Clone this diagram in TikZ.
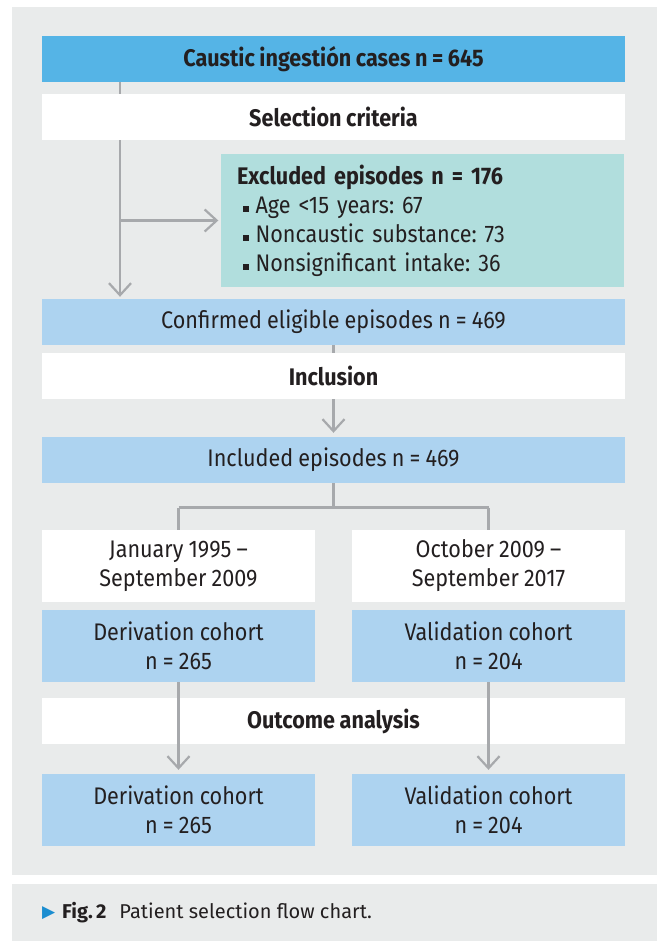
\documentclass[tikz,border=0pt]{standalone}
\usepackage{fontspec}
\setmainfont{Fira Sans}[FakeStretch=0.9, WordSpace=0.9]
\newfontfamily\capfont{Fira Sans}
\newfontfamily\djv{DejaVu Sans}
\usetikzlibrary{arrows.meta}
\definecolor{panelgray}{HTML}{E9EBEB}
\definecolor{topblue}{HTML}{55B4E6}
\definecolor{lightblue}{HTML}{ADD3F0}
\definecolor{exclteal}{HTML}{B1DEDD}
\definecolor{txt}{HTML}{231F20}
\definecolor{connc}{HTML}{A7A9AC}
\definecolor{capblue}{HTML}{1B8DD0}
\newcommand{\sqbul}{\hspace{5.5pt}\rule[1.5pt]{6pt}{6pt}\hspace{7pt}}
\frenchspacing
\begin{document}
\begin{tikzpicture}[x=1pt,y=-1pt,
  box/.style={inner sep=0pt, text=txt, align=center, font=\fontsize{24}{29}\selectfont},
  boldbox/.style={box, font=\fontsize{24}{29}\selectfont\bfseries},
  wide/.style={minimum width=583pt, minimum height=46pt},
  half/.style={box, minimum width=273pt, minimum height=72pt},
  conn/.style={draw=connc, line width=2.2pt},
  arr/.style={conn, -{Straight Barb[length=12pt,width=22pt]}}
]
\useasboundingbox (0,0) rectangle (657,941);
\fill[panelgray] (12,7) rectangle (657,875);
\fill[panelgray] (12,884) rectangle (657,941);

% top part
\coordinate (xl) at (120,0);
\node[boldbox, wide, fill=topblue] (top) at (333.5,59) {Caustic ingestión cases n = 645};
\node[box, wide, fill=lightblue] (conf) at (333.5,322) {Confirmed eligible episodes n = 469};
\node[box, fill=exclteal, minimum width=403pt, minimum height=133pt, text width=371pt, align=left] (excl) at (422.5,220.5)
  {\textbf{Excluded episodes n = 176}\\\sqbul Age <15 years: 67\\\sqbul Noncaustic substance: 73\\\sqbul Nonsignificant intake: 36};
\draw[arr, shorten >=2pt] (top.south -| xl) -- (conf.north -| xl);
\draw[arr, shorten >=2.5pt] (xl |- excl.west) -- (excl.west);
\node[boldbox, wide, fill=white] (sel) at (333.5,117) {Selection criteria};

% inclusion
\node[box, wide, fill=lightblue] (incd) at (333.5,460) {Included episodes n = 469};
\draw[arr, shorten >=4pt] (conf.south) -- (incd.north);
\node[boldbox, wide, fill=white] (incl) at (333.5,376) {Inclusion};

% split
\node[half, fill=white] (dl) at (178.5,566) {January 1995 –\\September 2009};
\node[half, fill=white] (dr) at (488.5,566) {October 2009 –\\September 2017};
\coordinate (split) at (333.5,507.5);
\draw[conn] (incd.south) -- (split);
\draw[conn] (split -| dl.north) -- (split -| dr.north);
\draw[conn] (split -| dl.north) -- (dl.north);
\draw[conn] (split -| dr.north) -- (dr.north);

\node[half, fill=lightblue] (cl) at (178.5,646) {Derivation cohort\\n = 265};
\node[half, fill=lightblue] (cr) at (488.5,646) {Validation cohort\\n = 204};

\node[boldbox, wide, fill=white] (out) at (333.5,721) {Outcome analysis};

\node[half, fill=lightblue] (bl) at (178.5,810) {Derivation cohort\\n = 265};
\node[half, fill=lightblue] (br) at (488.5,810) {Validation cohort\\n = 204};
\draw[arr, shorten >=4pt] (cl.south) -- (bl.north);
\draw[arr, shorten >=4pt] (cr.south) -- (br.north);

% caption
\node[anchor=west, inner sep=0pt, text=capblue, font=\djv\fontsize{17}{19}\selectfont] (tri) at (42,913) {▶};
\node[anchor=west, inner sep=0pt, text=txt, font=\capfont\fontsize{20}{22}\selectfont] (cap) at (62,913) {\textbf{Fig.\,2}\hspace{13pt}Patient selection flow chart.};
\end{tikzpicture}
\end{document}
